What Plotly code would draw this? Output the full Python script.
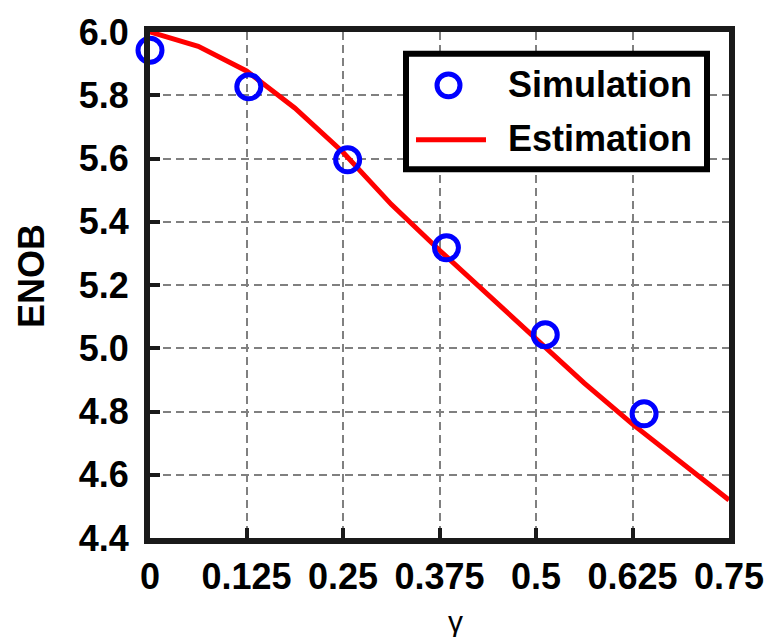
import plotly.graph_objects as go

# Simulated ENOB at multiples of 0.128
sim_gamma = [0.0, 0.128, 0.256, 0.384, 0.512, 0.640]
sim_enob = [5.942, 5.827, 5.596, 5.318, 5.043, 4.793]

# Analytical estimate
est_gamma = [0.0, 0.0625, 0.125, 0.1875, 0.25, 0.3125, 0.375, 0.4375,
             0.5, 0.5625, 0.625, 0.6875, 0.75]
est_enob = [6.0, 5.955, 5.877, 5.76, 5.62, 5.455, 5.31, 5.17,
            5.03, 4.89, 4.76, 4.64, 4.52]

x_ticks = [0, 0.125, 0.25, 0.375, 0.5, 0.625, 0.75]
x_labels = ["0", "0.125", "0.25", "0.375", "0.5", "0.625", "0.75"]
y_ticks = [4.4, 4.6, 4.8, 5.0, 5.2, 5.4, 5.6, 5.8, 6.0]
y_labels = ["4.4", "4.6", "4.8", "5.0", "5.2", "5.4", "5.6", "5.8", "6.0"]

W, H = 780, 637
L, R, T, B = 150, 51, 26, 99
PW, PH = W - L - R, H - T - B

FONT = "Liberation Sans, Arial, sans-serif"
BLUE = "#0000FF"
RED = "#FF0000"


def px(x):
    return (x - L) / PW


def py(y):
    return (H - B - y) / PH


fig = go.Figure()
fig.add_trace(go.Scatter(
    x=est_gamma, y=est_enob, mode="lines", name="Estimation",
    line=dict(color=RED, width=5), cliponaxis=False, showlegend=False))
fig.add_trace(go.Scatter(
    x=sim_gamma, y=sim_enob, mode="markers", name="Simulation",
    marker=dict(symbol="circle-open", size=24, color=BLUE,
                line=dict(color=BLUE, width=5)),
    cliponaxis=False, showlegend=False))

axis_common = dict(
    showline=True, linecolor="#1a1a1a", linewidth=6, mirror=True,
    ticks="inside", ticklen=10, tickwidth=4, tickcolor="#1a1a1a",
    showgrid=True, gridcolor="#808080", gridwidth=2, griddash="8px,5px",
    zeroline=False,
    tickfont=dict(family=FONT, size=36, color="black", weight="bold"),
)

fig.update_xaxes(range=[0, 0.75], tickvals=x_ticks, ticktext=x_labels,
                 ticklabelstandoff=2, **axis_common)
fig.update_yaxes(range=[4.4, 6.0], tickvals=y_ticks, ticktext=y_labels,
                 ticklabelstandoff=8, **axis_common)

# Legend box drawn in paper coordinates
shapes = [
    dict(type="rect", xref="paper", yref="paper",
         x0=px(406), x1=px(707), y0=py(165), y1=py(48),
         line=dict(color="black", width=6), fillcolor="white", layer="above"),
    dict(type="line", xref="paper", yref="paper",
         x0=px(416), x1=px(486), y0=py(135), y1=py(135),
         line=dict(color=RED, width=5), layer="above"),
    dict(type="circle", xref="paper", yref="paper",
         x0=px(437), x1=px(460), y0=py(91.5), y1=py(68.5),
         line=dict(color=BLUE, width=5), fillcolor="rgba(0,0,0,0)",
         layer="above"),
]

annotations = [
    dict(text="Simulation", xref="paper", yref="paper",
         x=px(506), y=py(79), xanchor="left", yanchor="middle",
         showarrow=False,
         font=dict(family=FONT, size=36, color="black", weight="bold")),
    dict(text="Estimation", xref="paper", yref="paper",
         x=px(506), y=py(134), xanchor="left", yanchor="middle",
         showarrow=False,
         font=dict(family=FONT, size=36, color="black", weight="bold")),
    dict(text="ENOB", xref="paper", yref="paper",
         x=px(31), y=py(273), xanchor="center", yanchor="middle",
         textangle=-90, showarrow=False,
         font=dict(family=FONT, size=36, color="black", weight="bold")),
    dict(text="γ", xref="paper", yref="paper",
         x=px(455), y=py(622), xanchor="center", yanchor="middle",
         showarrow=False,
         font=dict(family=FONT, size=30, color="black")),
]

fig.update_layout(
    width=W, height=H,
    margin=dict(l=L, r=R, t=T, b=B, pad=0),
    paper_bgcolor="white", plot_bgcolor="white",
    shapes=shapes, annotations=annotations,
    showlegend=False,
)

fig.write_html("out.html")
